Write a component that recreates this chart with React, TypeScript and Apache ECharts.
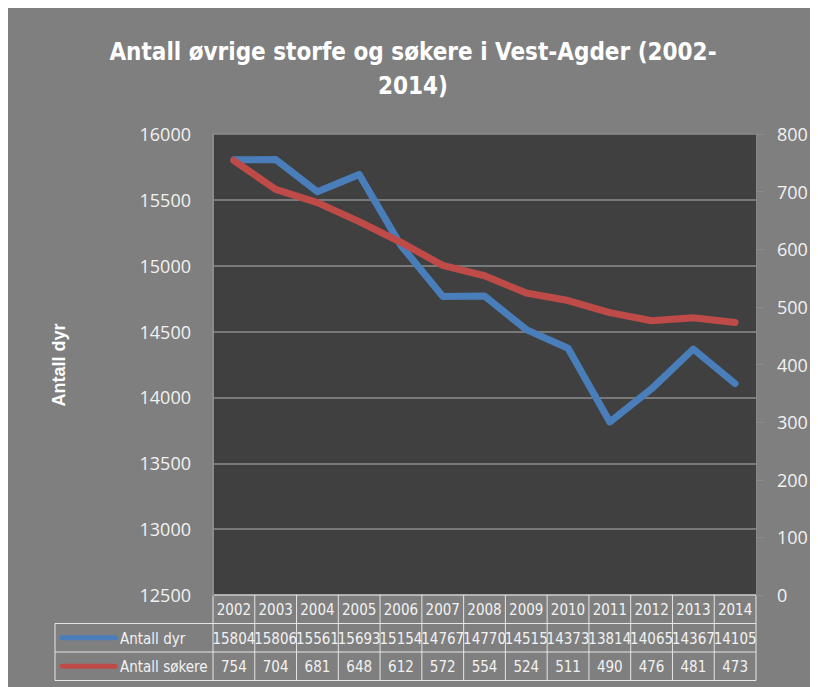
import React, { useEffect, useRef } from "react";
import * as echarts from "echarts";

const years = ["2002", "2003", "2004", "2005", "2006", "2007", "2008", "2009", "2010", "2011", "2012", "2013", "2014"];
const antallDyr = [15804, 15806, 15561, 15693, 15154, 14767, 14770, 14515, 14373, 13814, 14065, 14367, 14105];
const antallSokere = [754, 704, 681, 648, 612, 572, 554, 524, 511, 490, 476, 481, 473];
const seriesNames = ["Antall dyr", "Antall søkere"];
const leftAxis = { min: 12500, max: 16000, interval: 500 };
const rightAxis = { min: 0, max: 800, interval: 100 };
const titleText = "Antall øvrige storfe og søkere i Vest-Agder (2002-\n2014)";
const axisTitle = "Antall dyr";

const BLUE = "#4a7ebb";
const RED = "#be4b48";
const TXT = "#f2f2f2";
const CONDENSED = "'Liberation Sans Narrow', 'DejaVu Sans Condensed', 'Open Sans', sans-serif";

export default function App() {
  const ref = useRef<HTMLDivElement>(null);
  useEffect(() => {
    if (!ref.current) return;
    const chart = echarts.init(ref.current, null, { renderer: "svg" });
    chart.setOption({
      animation: false,
      backgroundColor: "#7f7f7f",
      title: {
        text: titleText,
        left: "center",
        top: 22,
        textStyle: { color: "#ffffff", fontSize: 24, fontWeight: "bold", lineHeight: 34, fontFamily: CONDENSED },
      },
      grid: { left: 205, right: 62, top: 126, bottom: 92, show: true, backgroundColor: "#404040", borderWidth: 0 },
      xAxis: {
        type: "category",
        data: years,
        boundaryGap: true,
        axisLabel: { show: false },
        axisTick: { show: false },
        axisLine: { show: false },
      },
      yAxis: [
        {
          type: "value",
          min: leftAxis.min,
          max: leftAxis.max,
          interval: leftAxis.interval,
          axisLine: { show: true, lineStyle: { color: "#8c8c8c", width: 2 } },
          axisTick: { show: false },
          axisLabel: { color: TXT, fontSize: 18, margin: 22, fontFamily: "'Open Sans', sans-serif", formatter: (v: number) => String(v) },
          splitLine: { show: true, lineStyle: { color: "#8c8c8c", width: 1.5 } },
        },
        {
          type: "value",
          position: "right",
          min: rightAxis.min,
          max: rightAxis.max,
          interval: rightAxis.interval,
          axisLine: { show: true, lineStyle: { color: "#888888", width: 1 } },
          axisTick: { show: true, length: 7, lineStyle: { color: "#8c8c8c" } },
          axisLabel: { color: TXT, fontSize: 18, margin: 21, fontFamily: "'Open Sans', sans-serif", formatter: (v: number) => String(v) },
          splitLine: { show: false },
        },
      ],
      series: [
        {
          name: seriesNames[0],
          type: "line",
          data: antallDyr,
          yAxisIndex: 0,
          symbol: "none",
          lineStyle: { color: BLUE, width: 7, cap: "round", join: "round" },
          itemStyle: { color: BLUE },
        },
        {
          name: seriesNames[1],
          type: "line",
          data: antallSokere,
          yAxisIndex: 1,
          symbol: "none",
          lineStyle: { color: RED, width: 7, cap: "round", join: "round" },
          itemStyle: { color: RED },
        },
      ],
    });

    // Data table built from the library's own axis positions
    const xs = years.map((_, i) => chart.convertToPixel({ xAxisIndex: 0 }, i) as number);
    const colW = xs[1] - xs[0];
    const tLeft = xs[0] - colW / 2;
    const tRight = xs[xs.length - 1] + colW / 2;
    const y0 = chart.convertToPixel({ yAxisIndex: 0 }, leftAxis.min) as number;
    const rowH = 28.5;
    const legLeft = 47;
    const border = { stroke: "#e6e6e6", lineWidth: 1 };
    const els: any[] = [];
    els.push({ type: "line", shape: { x1: tLeft, y1: y0, x2: tRight, y2: y0 }, style: border });
    for (let r = 1; r <= 3; r++) {
      els.push({ type: "line", shape: { x1: legLeft, y1: y0 + r * rowH, x2: tRight, y2: y0 + r * rowH }, style: border });
    }
    for (let c = 0; c <= years.length; c++) {
      const x = tLeft + c * colW;
      els.push({ type: "line", shape: { x1: x, y1: y0, x2: x, y2: y0 + 3 * rowH }, style: border });
    }
    els.push({ type: "line", shape: { x1: legLeft, y1: y0 + rowH, x2: legLeft, y2: y0 + 3 * rowH }, style: border });
    const rows = [years.map(String), antallDyr.map(String), antallSokere.map(String)];
    rows.forEach((row, r) => {
      row.forEach((v, i) => {
        els.push({
          type: "text",
          x: xs[i],
          y: y0 + r * rowH + rowH / 2 + 1,
          style: { text: v, fill: TXT, fontSize: 15, fontFamily: CONDENSED, align: "center", verticalAlign: "middle" },
        });
      });
    });
    const legColors = [BLUE, RED];
    seriesNames.forEach((name, k) => {
      const cy = y0 + (k + 1) * rowH + rowH / 2;
      els.push({ type: "line", shape: { x1: 54, y1: cy, x2: 107, y2: cy }, style: { stroke: legColors[k], lineWidth: 5, lineCap: "round" } });
      els.push({
        type: "text",
        x: 112,
        y: cy + 1,
        style: { text: name, fill: TXT, fontSize: 15, fontFamily: CONDENSED, align: "left", verticalAlign: "middle" },
      });
    });
    els.push({
      type: "text",
      x: 51,
      y: 357,
      rotation: Math.PI / 2,
      style: { text: axisTitle, fill: "#ffffff", fontSize: 18, fontWeight: "bold", fontFamily: "'Liberation Sans', Arial, sans-serif", align: "center", verticalAlign: "middle" },
    });
    chart.setOption({ graphic: { elements: els } });

    return () => chart.dispose();
  }, []);
  return <div ref={ref} style={{ width: 810, height: 679 }} />;
}
